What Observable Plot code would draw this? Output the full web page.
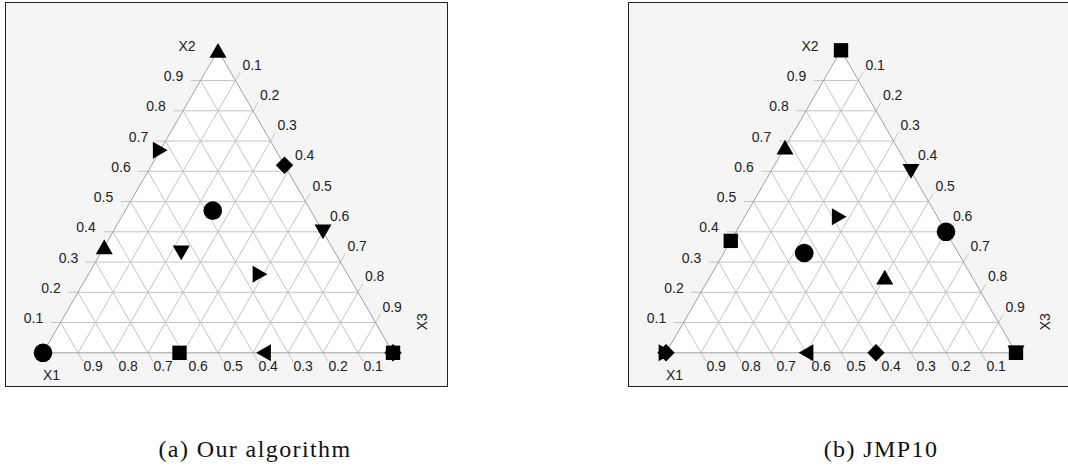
<!DOCTYPE html>
<html><head><meta charset="utf-8">
<script src="https://cdn.jsdelivr.net/npm/d3@7"></script>
<script src="https://cdn.jsdelivr.net/npm/@observablehq/plot@0.6"></script>
<style>
html,body{margin:0;padding:0;background:#fff;width:1068px;height:468px;overflow:hidden;}
.panel{position:absolute;top:2px;border:1.5px solid #222;background:#f5f5f5;width:441px;height:383px;}
.panel svg{display:block;}
.cap{position:absolute;top:437px;width:400px;text-align:center;font-family:"Liberation Serif","Times New Roman",serif;font-size:24px;line-height:24px;letter-spacing:1.4px;color:#111;white-space:nowrap;}
</style></head><body>
<div id="pa" class="panel" style="left:5px"></div>
<div id="pb" class="panel" style="left:627.5px"></div>
<div id="ca" class="cap" style="left:55px"></div>
<div id="cb" class="cap" style="left:681px"></div>
<script>
// ---- data ----
const tickValues = [0.1, 0.2, 0.3, 0.4, 0.5, 0.6, 0.7, 0.8, 0.9];
const tickLabels = ["0.1", "0.2", "0.3", "0.4", "0.5", "0.6", "0.7", "0.8", "0.9"];
const axisTitles = ["X1", "X2", "X3"];
const captions = ["(a) Our algorithm", "(b) JMP10"];

// Panel (a): design points as (X1, X2, X3)
const shapesA = ["triangleUp", "triangleRight", "diamond", "circle", "triangleDown", "triangleUp", "triangleDown", "triangleRight", "circle", "square", "triangleLeft", "square", "diamond"];
const x1A = [0, 0.33, 0, 0.28, 0, 0.65, 0.44, 0.25, 1, 0.61, 0.37, 0, 0];
const x2A = [1, 0.67, 0.62, 0.47, 0.40, 0.35, 0.33, 0.26, 0, 0, 0, 0, 0];
const x3A = [0, 0, 0.38, 0.25, 0.60, 0, 0.23, 0.49, 0, 0.39, 0.63, 1, 1];

// Panel (b)
const shapesB = ["square", "triangleUp", "triangleDown", "triangleRight", "circle", "square", "circle", "triangleUp", "diamond", "triangleRight", "triangleLeft", "diamond", "square", "triangleDown"];
const x1B = [0, 0.32, 0, 0.28, 0, 0.63, 0.44, 0.25, 1, 1, 0.6, 0.4, 0, 0];
const x2B = [1, 0.68, 0.6, 0.45, 0.4, 0.37, 0.33, 0.25, 0, 0, 0, 0, 0, 0];
const x3B = [0, 0, 0.4, 0.27, 0.6, 0, 0.23, 0.5, 0, 0, 0.4, 0.6, 1, 1];

// ---- helpers ----
const T = 0.028; // tick extension (ternary units)
const tx = (p) => p[2] + p[1] / 2;
const ty = (p) => p[1];

function triSym(angle) {
  return {
    draw(ctx, size) {
      const R = Math.sqrt(size / Math.PI);
      const pts = [[0, -0.866 * R], [-R, 0.866 * R], [R, 0.866 * R]];
      const c = Math.cos(angle), s = Math.sin(angle);
      pts.forEach(([x, y], i) => {
        const X = x * c - y * s, Y = x * s + y * c;
        if (i === 0) ctx.moveTo(X, Y); else ctx.lineTo(X, Y);
      });
      ctx.closePath();
    }
  };
}
const diamondSym = {
  draw(ctx, size) {
    const R = Math.sqrt(size / Math.PI);
    ctx.moveTo(0, -R); ctx.lineTo(R, 0); ctx.lineTo(0, R); ctx.lineTo(-R, 0); ctx.closePath();
  }
};
const SYM = {
  circle: "circle",
  square: "square",
  diamond: diamondSym,
  triangleUp: triSym(0),
  triangleDown: triSym(Math.PI),
  triangleRight: triSym(Math.PI / 2),
  triangleLeft: triSym(-Math.PI / 2)
};
const RAD = {circle: 9.3, square: 8.1, diamond: 8.7, triangleUp: 8.5, triangleDown: 8.5, triangleRight: 8.5, triangleLeft: 8.5};

const vertices = [[1, 0, 0], [0, 1, 0], [0, 0, 1], [1, 0, 0]];
const grid = [];
const labX2 = [], labX3 = [], labX1 = [];
tickValues.forEach((k, i) => {
  grid.push({a: [1 - k + T, k, -T], b: [0, k, 1 - k]});
  grid.push({a: [1 - k, 0, k], b: [-T, 1 - k + T, k]});
  grid.push({a: [k, 1 - k, 0], b: [k, -T, 1 - k + T]});
  labX2.push({p: [1 - k + T, k, -T], t: tickLabels[i]});
  labX3.push({p: [-T, 1 - k + T, k], t: tickLabels[i]});
  labX1.push({p: [k, -T, 1 - k + T], t: tickLabels[i]});
});

function panel(shapes, a1, a2, a3) {
  const pts = shapes.map((s, i) => ({shape: s, p: [a1[i], a2[i], a3[i]]}));
  const marks = [
    Plot.line(vertices, {x: tx, y: ty, fill: "white", stroke: "none"}),
    Plot.link(grid, {x1: d => tx(d.a), y1: d => ty(d.a), x2: d => tx(d.b), y2: d => ty(d.b), stroke: "#c4c4c4", strokeWidth: 1}),
    Plot.line(vertices, {x: tx, y: ty, stroke: "#a0a0a0", strokeWidth: 1}),
    Plot.text(labX2, {x: d => tx(d.p), y: d => ty(d.p), text: "t", textAnchor: "end", dx: -7.5, dy: -4, fontSize: 14, fill: "#222"}),
    Plot.text(labX3, {x: d => tx(d.p), y: d => ty(d.p), text: "t", textAnchor: "start", dx: 2, dy: -7, fontSize: 14, fill: "#222"}),
    Plot.text(labX1, {x: d => tx(d.p), y: d => ty(d.p), text: "t", textAnchor: "start", dx: 0.5, dy: 5.5, fontSize: 14, fill: "#222"}),
    Plot.text([vertices[1]], {x: tx, y: ty, text: [axisTitles[1]], dx: -31, dy: -4, fontSize: 14, fill: "#222"}),
    Plot.text([vertices[0]], {x: tx, y: ty, text: [axisTitles[0]], dx: 8.5, dy: 23, fontSize: 14, fill: "#222"}),
    Plot.text([vertices[2]], {x: tx, y: ty, text: [axisTitles[2]], dx: 30, dy: -31, rotate: -90, fontSize: 14, fill: "#222"})
  ];
  Object.keys(SYM).forEach(name => {
    marks.push(Plot.dot(pts, {filter: d => d.shape === name, x: d => tx(d.p), y: d => ty(d.p), symbol: SYM[name], r: RAD[name], fill: "black", stroke: "none"}));
  });
  return Plot.plot({
    width: 441,
    height: 383,
    marginLeft: 36.5,
    marginRight: 54.5,
    marginTop: 46.8,
    marginBottom: 33.7,
    x: {domain: [0, 1], axis: null},
    y: {domain: [0, 1], axis: null},
    style: {background: "transparent", fontFamily: "'Liberation Sans', Arial, sans-serif", overflow: "visible"},
    marks
  });
}

document.getElementById("pa").appendChild(panel(shapesA, x1A, x2A, x3A));
document.getElementById("pb").appendChild(panel(shapesB, x1B, x2B, x3B));
document.getElementById("ca").textContent = captions[0];
document.getElementById("cb").textContent = captions[1];
</script>
</body></html>
